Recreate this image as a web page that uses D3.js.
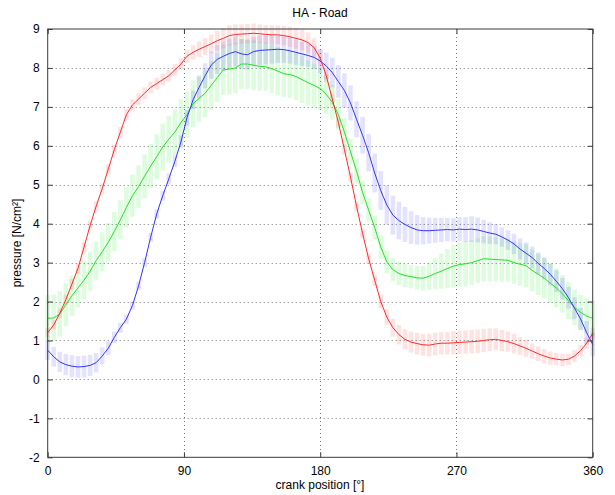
<!DOCTYPE html>
<html>
<head>
<meta charset="utf-8">
<script src="https://cdn.jsdelivr.net/npm/d3@7"></script>
<style>
  body { margin: 0; background: #fff; }
  svg { display: block; }
  text { font-family: "Liberation Sans", Arial, Helvetica, sans-serif; fill: #000; }
</style>
</head>
<body>
<svg id="chart" width="615" height="495"></svg>
<script>
// crank angle samples (degrees), 4° steps
const angles = d3.range(0, 361, 4);

const redMean = [1.2,1.4,1.7,2.05,2.45,2.85,3.4,3.95,4.45,4.9,
  5.4,5.9,6.35,6.8,7.05,7.2,7.35,7.5,7.6,7.7,
  7.8,7.95,8.1,8.3,8.4,8.48,8.55,8.62,8.7,8.76,
  8.83,8.86,8.87,8.88,8.89,8.88,8.86,8.85,8.85,8.83,
  8.8,8.76,8.72,8.65,8.52,8.25,7.8,7.2,6.6,5.9,
  5.2,4.45,3.75,3.1,2.55,2.0,1.6,1.33,1.15,1.03,
  0.96,0.92,0.89,0.88,0.91,0.93,0.93,0.94,0.95,0.96,
  0.97,0.98,1.0,1.02,1.03,1.0,0.97,0.92,0.86,0.8,
  0.73,0.66,0.6,0.55,0.52,0.5,0.52,0.6,0.74,0.93,
  1.18];
const redErr = [0.12,0.12,0.13,0.13,0.13,0.13,0.13,0.13,0.13,0.13,
  0.13,0.13,0.14,0.14,0.15,0.15,0.15,0.15,0.15,0.15,
  0.15,0.15,0.16,0.17,0.18,0.2,0.22,0.24,0.25,0.26,
  0.26,0.26,0.25,0.25,0.25,0.24,0.24,0.24,0.24,0.25,
  0.26,0.27,0.27,0.26,0.24,0.2,0.16,0.14,0.13,0.13,
  0.13,0.13,0.13,0.14,0.15,0.17,0.2,0.23,0.25,0.26,
  0.27,0.28,0.28,0.29,0.29,0.29,0.29,0.3,0.3,0.3,
  0.3,0.3,0.3,0.29,0.28,0.27,0.26,0.25,0.23,0.22,
  0.2,0.19,0.18,0.17,0.16,0.16,0.15,0.15,0.15,0.15,
  0.15];

const blueMean = [0.75,0.58,0.45,0.38,0.34,0.32,0.33,0.36,0.43,0.6,
  0.8,1.08,1.33,1.55,1.9,2.4,3.0,3.65,4.25,4.72,
  5.15,5.6,6.1,6.72,7.18,7.5,7.8,8.07,8.22,8.3,
  8.37,8.42,8.36,8.34,8.42,8.45,8.46,8.47,8.48,8.47,
  8.44,8.4,8.36,8.32,8.27,8.18,8.05,7.88,7.65,7.42,
  7.1,6.68,6.27,5.82,5.3,4.85,4.48,4.22,4.08,3.98,
  3.9,3.84,3.82,3.82,3.83,3.84,3.85,3.84,3.86,3.85,
  3.86,3.84,3.8,3.76,3.73,3.66,3.58,3.48,3.35,3.24,
  3.13,2.98,2.85,2.7,2.52,2.33,2.1,1.83,1.55,1.2,
  0.9];
const blueErr = [0.25,0.25,0.26,0.27,0.28,0.28,0.28,0.27,0.25,0.22,
  0.18,0.15,0.13,0.12,0.11,0.11,0.11,0.11,0.12,0.13,
  0.14,0.15,0.17,0.2,0.24,0.28,0.32,0.35,0.37,0.38,
  0.38,0.38,0.38,0.38,0.38,0.38,0.37,0.36,0.35,0.34,
  0.33,0.32,0.31,0.3,0.3,0.31,0.34,0.38,0.42,0.44,
  0.45,0.46,0.47,0.48,0.5,0.5,0.5,0.5,0.48,0.45,
  0.42,0.38,0.35,0.33,0.32,0.31,0.3,0.3,0.31,0.32,
  0.33,0.32,0.3,0.28,0.26,0.25,0.25,0.26,0.27,0.28,
  0.28,0.28,0.28,0.28,0.28,0.28,0.28,0.28,0.28,0.3,
  0.3];

const greenMean = [1.57,1.58,1.68,1.92,2.15,2.35,2.55,2.78,3.05,3.28,
  3.52,3.8,4.1,4.42,4.72,4.95,5.22,5.48,5.72,5.97,
  6.17,6.35,6.6,6.8,7.08,7.22,7.35,7.55,7.75,7.95,
  7.97,8.0,8.1,8.1,8.07,8.04,8.03,7.98,7.92,7.85,
  7.83,7.78,7.7,7.62,7.55,7.47,7.32,7.12,6.8,6.35,
  5.85,5.35,4.8,4.35,3.9,3.4,3.02,2.82,2.72,2.67,
  2.64,2.61,2.6,2.65,2.72,2.78,2.85,2.91,2.95,2.97,
  3.0,3.05,3.1,3.09,3.08,3.07,3.06,3.0,2.96,2.92,
  2.8,2.7,2.6,2.47,2.35,2.2,2.02,1.85,1.72,1.63,
  1.57];
const greenErr = [0.6,0.6,0.58,0.55,0.52,0.5,0.5,0.5,0.5,0.5,
  0.5,0.5,0.5,0.52,0.54,0.55,0.56,0.57,0.58,0.6,
  0.6,0.6,0.6,0.6,0.6,0.6,0.62,0.63,0.63,0.64,
  0.65,0.65,0.65,0.65,0.64,0.63,0.62,0.62,0.62,0.6,
  0.6,0.6,0.6,0.58,0.56,0.55,0.5,0.45,0.4,0.36,
  0.33,0.32,0.3,0.3,0.3,0.3,0.3,0.3,0.3,0.3,
  0.3,0.3,0.32,0.35,0.4,0.45,0.5,0.55,0.57,0.58,
  0.58,0.58,0.58,0.58,0.57,0.56,0.55,0.55,0.55,0.55,
  0.54,0.53,0.52,0.5,0.5,0.48,0.47,0.46,0.45,0.45,
  0.45];

const xTicks = [0, 90, 180, 270, 360];
const yTicks = [-2, -1, 0, 1, 2, 3, 4, 5, 6, 7, 8, 9];
const titleText = "HA - Road";
const xLabel = "crank position [°]";
const yLabel = "pressure [N/cm²]";

const series = [
  { name: "green", mean: greenMean, err: greenErr, line: "#22e022", bar: "rgb(0,235,0)" },
  { name: "blue",  mean: blueMean,  err: blueErr,  line: "#3333ff", bar: "rgb(40,40,255)" },
  { name: "red",   mean: redMean,   err: redErr,   line: "#ff2a2a", bar: "rgb(255,40,40)" }
];

const svg = d3.select("#chart");
const L = 47.7, R = 592.7, T = 29, B = 457.3;
const x = d3.scaleLinear().domain([0, 360]).range([L, R]);
const y = d3.scaleLinear().domain([-2, 9]).range([B, T]);

// grid
const grid = svg.append("g");
grid.selectAll("line.gx").data(xTicks.slice(1, -1)).join("line")
  .attr("x1", d => Math.round(x(d)) + 0.5).attr("x2", d => Math.round(x(d)) + 0.5)
  .attr("y1", T).attr("y2", B)
  .attr("stroke", "#777").attr("stroke-dasharray", "1,3");
grid.selectAll("line.gy").data(yTicks.slice(1, -1)).join("line")
  .attr("y1", d => Math.round(y(d)) + 0.5).attr("y2", d => Math.round(y(d)) + 0.5)
  .attr("x1", L).attr("x2", R)
  .attr("stroke", "#777").attr("stroke-dasharray", "1,3");

// error bars
const plot = svg.append("g");
series.forEach(s => {
  plot.append("g").selectAll("line").data(angles).join("line")
    .attr("x1", (d) => x(d)).attr("x2", (d) => x(d))
    .attr("y1", (d, i) => y(s.mean[i] - s.err[i]))
    .attr("y2", (d, i) => y(s.mean[i] + s.err[i]))
    .attr("stroke", s.bar).attr("stroke-opacity", 0.13).attr("stroke-width", 4.6);
});
// mean lines
const lineGen = (s) => d3.line().x((d) => x(d)).y((d, i) => y(s.mean[i]));
series.forEach(s => {
  plot.append("path").datum(angles)
    .attr("d", lineGen(s))
    .attr("fill", "none").attr("stroke", s.line).attr("stroke-width", 1);
});

// axes box and ticks
const axisColor = "#3a3a3a";
svg.append("rect").attr("x", L).attr("y", T).attr("width", R - L).attr("height", B - T)
  .attr("fill", "none").attr("stroke", axisColor).attr("stroke-width", 1);

const fmt = d => String(d);
const xAxis = d3.axisBottom(x).tickValues(xTicks).tickFormat(fmt).tickSizeInner(-5).tickSizeOuter(0).tickPadding(9);
svg.append("g").attr("transform", `translate(0,${B})`).call(xAxis);
const yAxis = d3.axisLeft(y).tickValues(yTicks).tickFormat(fmt).tickSizeInner(-5).tickSizeOuter(0).tickPadding(8);
svg.append("g").attr("transform", `translate(${L},0)`).call(yAxis);
const xAxisTop = d3.axisTop(x).tickValues(xTicks).tickSizeInner(-5).tickSizeOuter(0).tickFormat("");
svg.append("g").attr("transform", `translate(0,${T})`).call(xAxisTop);
const yAxisRight = d3.axisRight(y).tickValues(yTicks).tickSizeInner(-5).tickSizeOuter(0).tickFormat("");
svg.append("g").attr("transform", `translate(${R},0)`).call(yAxisRight);

svg.selectAll(".domain").remove();
svg.selectAll(".tick line").attr("stroke", axisColor);
svg.selectAll(".tick text").attr("font-size", 12).attr("fill", "#000")
  .style("font-family", '"Liberation Sans", Arial, sans-serif');

// title and labels
svg.append("text").attr("x", 320).attr("y", 17).attr("text-anchor", "middle")
  .attr("font-size", 12).text(titleText);
svg.append("text").attr("x", 320).attr("y", 489).attr("text-anchor", "middle")
  .attr("font-size", 12).text(xLabel);
svg.append("text").attr("transform", "translate(21,243) rotate(-90)").attr("text-anchor", "middle")
  .attr("font-size", 12).text(yLabel);
</script>
</body>
</html>
